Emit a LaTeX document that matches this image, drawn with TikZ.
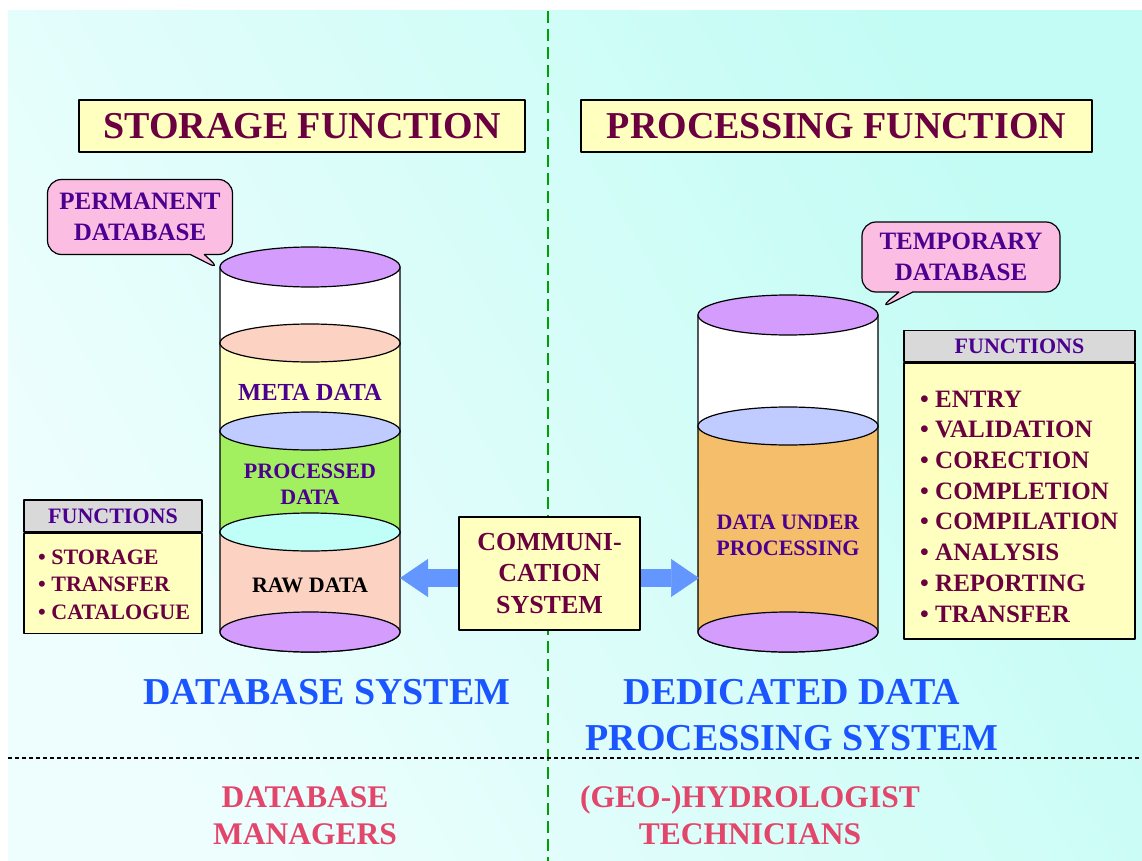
\documentclass[tikz,border=0pt]{standalone}
\usepackage{fontspec}
\setmainfont{Liberation Serif}
\usetikzlibrary{positioning,arrows.meta,shapes.callouts}

\definecolor{bgpale}{HTML}{EEFEFE}
\definecolor{bgcyan}{HTML}{C2FCF4}
\definecolor{boxyellow}{HTML}{FFFFC0}
\definecolor{headgray}{HTML}{D9D9D9}
\definecolor{titlered}{HTML}{6B0040}
\definecolor{inkpurple}{HTML}{4B0090}
\definecolor{lidpurple}{HTML}{D49CFC}
\definecolor{rawsalmon}{HTML}{FCD2C2}
\definecolor{lidblue}{HTML}{C0CCFF}
\definecolor{lidcyan}{HTML}{C0FFF8}
\definecolor{procgreen}{HTML}{A2F060}
\definecolor{temporange}{HTML}{F4BE6A}
\definecolor{bubblepink}{HTML}{FBBEE2}
\definecolor{arrowblue}{HTML}{6496FF}
\definecolor{sysblue}{HTML}{1A55FF}
\definecolor{staffred}{HTML}{E2466A}
\definecolor{splitgreen}{HTML}{00A000}

\begin{document}
\begin{tikzpicture}[x=1pt, y=-1pt, line join=round,
    titlebox/.style={draw, fill=boxyellow, line width=1.2pt, minimum height=52pt, text=titlered, font=\bfseries\fontsize{38}{40}\selectfont},
    bubble/.style={rectangle callout, draw, fill=bubblepink, line width=1.2pt, rounded corners=14pt, callout pointer width=14pt, text=inkpurple, align=center, font=\bfseries\fontsize{25}{31}\selectfont},
    band/.style={draw, line width=1.2pt},
    cyltext/.style={text=inkpurple, align=center, font=\bfseries\fontsize{22}{26}\selectfont},
    fnhead/.style={draw, fill=headgray, line width=1.5pt, text=inkpurple, font=\bfseries\fontsize{22}{26}\selectfont},
    fnbody/.style={draw, fill=boxyellow, line width=1.5pt},
    fnlist/.style={text=titlered, align=left, inner sep=0pt},
    bigarrow/.style={draw=arrowblue, line width=18pt, -{Triangle[length=28pt, width=38pt, line width=0.5pt]}},
    system/.style={text=sysblue, align=center, font=\bfseries\fontsize{38}{46}\selectfont},
    staff/.style={text=staffred, align=center, font=\bfseries\fontsize{31.5}{37}\selectfont}]

  % background and the two split lines
  \fill[white] (0,0) rectangle (1142,861);
  \shade[left color=bgpale, right color=bgcyan, shading angle=120] (8,11) rectangle (1142,861);
  \useasboundingbox (0,0) rectangle (1142,861);
  \draw[splitgreen, line width=1.5pt, dash pattern=on 12pt off 6pt] (548,11) -- (548,861);
  \draw[black, line width=2pt, dash pattern=on 4pt off 3pt] (8,758) -- (1142,758);

  \node[titlebox, minimum width=446pt] (storage) at (302,126) {STORAGE FUNCTION};
  \node[titlebox, minimum width=511pt] (processing) at (836.5,126) {PROCESSING FUNCTION};

  % permanent database
  \path[band, fill=white] (220,267) -- (220,343) arc[start angle=180, end angle=0, x radius=90, y radius=20] -- (400,267) -- cycle;
  \path[band, fill=lidpurple] (310,267) ellipse [x radius=90, y radius=20];
  \path[band, fill=boxyellow] (220,343) -- (220,431) arc[start angle=180, end angle=0, x radius=90, y radius=20] -- (400,343) -- cycle;
  \path[band, fill=rawsalmon] (310,343) ellipse [x radius=90, y radius=19];
  \path[band, fill=procgreen] (220,431) -- (220,532) arc[start angle=180, end angle=0, x radius=90, y radius=20] -- (400,431) -- cycle;
  \path[band, fill=lidblue] (310,431) ellipse [x radius=90, y radius=19];
  \path[band, fill=rawsalmon] (220,532) -- (220,632) arc[start angle=180, end angle=0, x radius=90, y radius=20] -- (400,532) -- cycle;
  \path[band, fill=lidcyan] (310,532) ellipse [x radius=90, y radius=19];
  \path[band, fill=lidpurple] (310,632) ellipse [x radius=90, y radius=20];
  \node[cyltext, font=\bfseries\fontsize{24.5}{26}\selectfont] (meta) at (310,392) {META DATA};
  \node[cyltext] (processed) at (310,484) {PROCESSED\\DATA};
  \node[cyltext, text=black] (raw) at (310,585) {RAW DATA};
  \coordinate (permtop) at (221,270);
  \coordinate (rawside) at (400,578);

  % temporary database
  \path[band, fill=white] (698,315) -- (698,426) arc[start angle=180, end angle=0, x radius=90, y radius=20] -- (878,315) -- cycle;
  \path[band, fill=lidpurple] (788,315) ellipse [x radius=90, y radius=20];
  \path[band, fill=temporange] (698,426) -- (698,632) arc[start angle=180, end angle=0, x radius=90, y radius=20] -- (878,426) -- cycle;
  \path[band, fill=lidblue] (788,426) ellipse [x radius=90, y radius=19];
  \path[band, fill=lidpurple] (788,632) ellipse [x radius=90, y radius=20];
  \node[cyltext] (under) at (788,535) {DATA UNDER\\PROCESSING};
  \coordinate (temptop) at (879,309);
  \coordinate (underside) at (699,578);

  \node[bubble, minimum width=185pt, minimum height=75pt, callout absolute pointer={(permtop)}] (permanent) at (140,217) {PERMANENT\\DATABASE};
  \node[bubble, minimum width=198pt, minimum height=70pt, callout absolute pointer={(temptop)}] (temporary) at (961,257) {TEMPORARY\\DATABASE};

  % communication
  \node[draw, fill=boxyellow, line width=1.5pt, minimum width=181pt, minimum height=113pt, text=titlered, align=center, font=\bfseries\fontsize{26}{31.5}\selectfont] (comm) at (549.5,573.5) {COMMUNI-\\CATION\\SYSTEM};
  \draw[bigarrow] (comm.west |- rawside) -- (rawside);
  \draw[bigarrow] (comm.east |- underside) -- (underside);

  % function lists
  \node[fnhead, minimum width=178pt, minimum height=32pt] (fnLhead) at (113,516) {FUNCTIONS};
  \node[fnbody, minimum width=178pt, minimum height=100pt, below=0pt of fnLhead] (fnLbody) {};
  \node[fnlist, anchor=west, font=\bfseries\fontsize{22}{27.5}\selectfont] (fnLlist) at (38,584.5) {\textbullet\ STORAGE\\\textbullet\ TRANSFER\\\textbullet\ CATALOGUE};

  \node[fnhead, minimum width=231pt, minimum height=31pt] (fnRhead) at (1019.5,346) {FUNCTIONS};
  \node[fnbody, minimum width=231pt, minimum height=276pt, below=0pt of fnRhead] (fnRbody) {};
  \node[fnlist, anchor=west, font=\bfseries\fontsize{25}{30.7}\selectfont] (fnRlist) at (920,506.5) {\textbullet\ ENTRY\\\textbullet\ VALIDATION\\\textbullet\ CORECTION\\\textbullet\ COMPLETION\\\textbullet\ COMPILATION\\\textbullet\ ANALYSIS\\\textbullet\ REPORTING\\\textbullet\ TRANSFER};

  % systems and staff
  \node[system] (dbsys) at (327,692) {DATABASE SYSTEM};
  \node[system] (procsys) at (792,715) {DEDICATED DATA\\PROCESSING SYSTEM};
  \node[staff] (managers) at (305,815.5) {DATABASE\\MANAGERS};
  \node[staff] (technicians) at (750,815.5) {(GEO-)HYDROLOGIST\\TECHNICIANS};
\end{tikzpicture}
\end{document}
